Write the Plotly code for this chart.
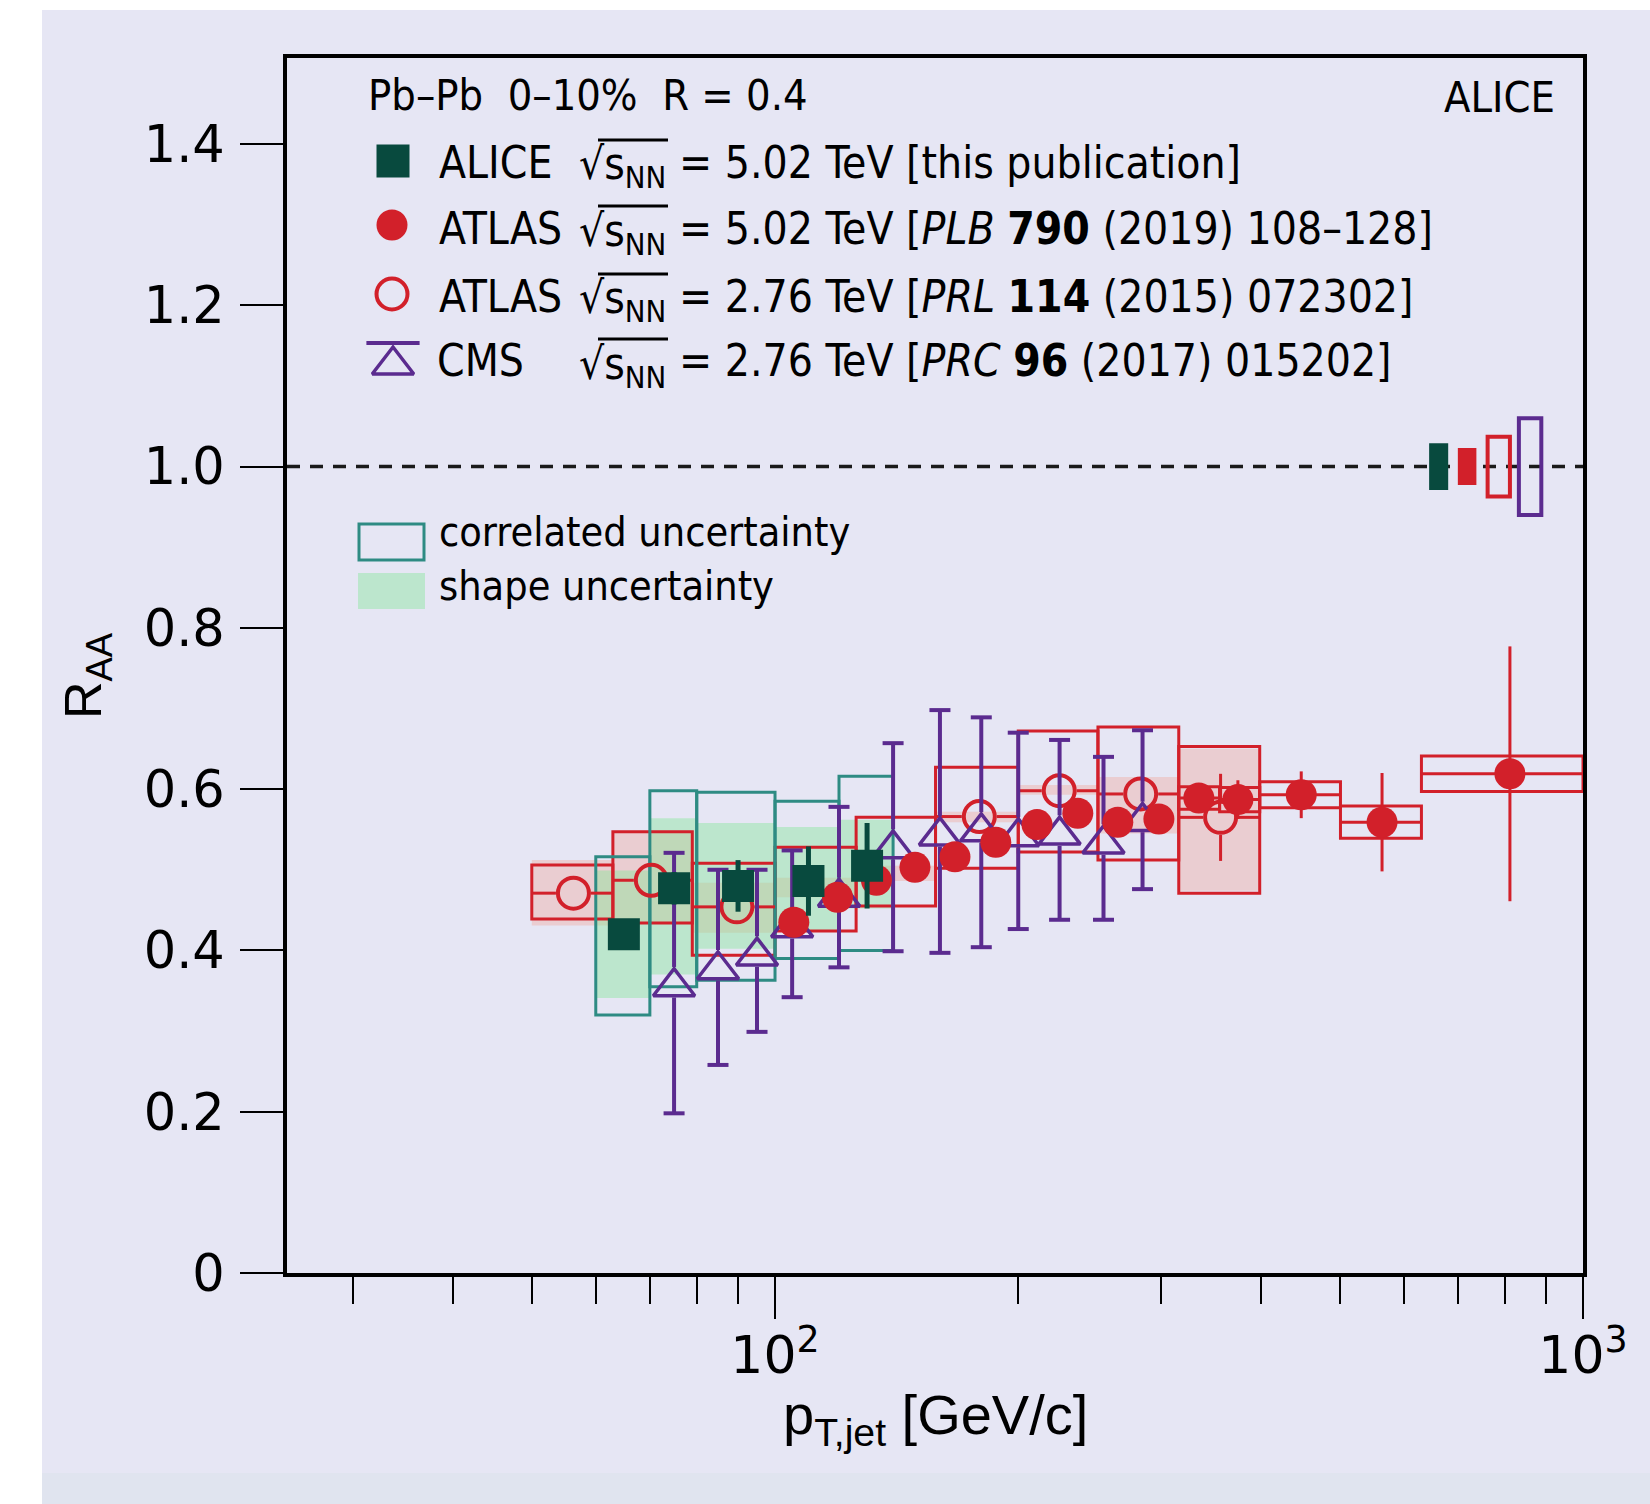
import plotly.graph_objects as go

# ---------------- data ----------------
# ALICE, sqrt(sNN) = 5.02 TeV
alice_lo = [60, 70, 80, 100, 120]
alice_hi = [70, 80, 100, 120, 140]
alice_x = [65, 75, 90, 110, 130]
alice_y = [0.420, 0.477, 0.480, 0.486, 0.505]
alice_stat = [0.015, 0.020, 0.032, 0.043, 0.053]
alice_corr_lo = [0.320, 0.355, 0.363, 0.390, 0.400]
alice_corr_hi = [0.516, 0.598, 0.596, 0.585, 0.616]
alice_shape_lo = [0.341, 0.370, 0.402, 0.425, 0.452]
alice_shape_hi = [0.499, 0.564, 0.558, 0.553, 0.562]

# ATLAS, sqrt(sNN) = 5.02 TeV  (sys 0 -> no box / bin bar visible)
atlas5_lo = [100, 112, 126, 141, 158, 178, 200, 224, 251, 282, 316, 355, 398, 501, 631]
atlas5_hi = [112, 126, 141, 158, 178, 200, 224, 251, 282, 316, 355, 398, 501, 631, 1000]
atlas5_x = [105.5, 119.5, 133.5, 149, 167, 187.6, 211, 237, 265.6, 298.6, 334.6, 374, 448, 564, 812]
atlas5_y = [0.435, 0.466, 0.487, 0.503, 0.516, 0.534, 0.556, 0.570, 0.559, 0.563,
            0.589, 0.587, 0.593, 0.559, 0.619]
atlas5_stat = [0.008, 0.008, 0.008, 0.008, 0.008, 0.008, 0.008, 0.009, 0.010, 0.012,
               0.015, 0.024, 0.029, 0.061, 0.158]
atlas5_sys = [0, 0, 0, 0, 0, 0, 0, 0, 0, 0,
              0.014, 0.015, 0.016, 0.020, 0.022]

# ATLAS, sqrt(sNN) = 2.76 TeV
atlas2_lo = [50, 63, 79, 100, 126, 158, 200, 251, 316]
atlas2_hi = [63, 79, 100, 126, 158, 200, 251, 316, 398]
atlas2_box_lo = [0.439, 0.434, 0.394, 0.424, 0.455, 0.502, 0.522, 0.512, 0.471]
atlas2_box_hi = [0.506, 0.547, 0.508, 0.528, 0.565, 0.627, 0.672, 0.677, 0.653]
atlas2_fill_lo = [0.431, 0.434, 0.422, 0.466, 0.486, 0.559, 0.593, 0.545, 0.474]
atlas2_fill_hi = [0.512, 0.547, 0.484, 0.490, 0.505, 0.572, 0.605, 0.615, 0.650]
atlas2_x = [56.3, 70.3, 89.7, None, None, 179, 224.8, 283.5, 356]
atlas2_y = [0.471, 0.487, 0.454, None, None, 0.566, 0.598, 0.594, 0.565]
atlas2_stat = [0.012, 0.012, 0.012, None, None, 0.012, 0.012, 0.015, 0.054]

# CMS, sqrt(sNN) = 2.76 TeV
cms_x = [75, 85, 95, 105, 120, 140, 160, 180, 200, 225, 255, 285]
cms_y = [0.355, 0.376, 0.393, 0.428, 0.466, 0.526, 0.542, 0.547, 0.541, 0.543, 0.532, 0.560]
cms_top = [0.521, 0.500, 0.500, 0.524, 0.578, 0.657, 0.698, 0.689, 0.670, 0.661, 0.640, 0.673]
cms_bot = [0.198, 0.258, 0.299, 0.342, 0.379, 0.399, 0.397, 0.404, 0.4265, 0.438, 0.438, 0.476]

# normalisation uncertainties drawn at R_AA = 1 (ALICE, ATLAS 5.02, ATLAS 2.76, CMS)
norm_lo = [645, 700, 762, 833]
norm_hi = [681, 738, 812, 888]
norm_unc = [0.029, 0.023, 0.037, 0.060]

x_tickvals = [100, 1000]
x_ticktext = ["10<sup>2</sup>", "10<sup>3</sup>"]
x_minor = [30, 40, 50, 60, 70, 80, 90, 200, 300, 400, 500, 600, 700, 800, 900]
y_tickvals = [0, 0.2, 0.4, 0.6, 0.8, 1.0, 1.2, 1.4]
y_ticktext = ["0", "0.2", "0.4", "0.6", "0.8", "1.0", "1.2", "1.4"]

# ---------------- layout geometry ----------------
W, H = 1650, 1504
L_PX, R_PX, T_PX, B_PX = 287, 1583, 58, 1273
PW, PH = R_PX - L_PX, B_PX - T_PX
XR = [1.396, 3.0]
YR = [0.0, 1.5066]
PX_PER_DEC = PW / (XR[1] - XR[0])
PX_PER_Y = PH / (YR[1] - YR[0])


def px(x):
    return (x - L_PX) / PW


def py(y):
    return (B_PX - y) / PH


BG = "#e6e6f4"
RED = "#d2202a"
GREEN = "#084a3e"
TEAL = "#2e8b83"
PURPLE = "#5b2b8f"
GREEN_FILL = "rgba(130,230,150,0.42)"
PINK_FILL = "rgba(245,140,120,0.28)"
NARROW = "DejaVu Sans Condensed, Liberation Sans, sans-serif"
TICKF = "DejaVu Sans, sans-serif"
TXT = 44

CIRC = 31
CIRC_LW = 4
TRI = 36
TRI_LW = 3.5


def rect_path(x0s, x1s, y0s, y1s, closed_extra=False):
    xs, ys = [], []
    for a, b, c, d in zip(x0s, x1s, y0s, y1s):
        if closed_extra:
            xs += [a, b, b, a, a, b, None]
            ys += [c, c, d, d, c, c, None]
        else:
            xs += [a, b, b, a, a, None]
            ys += [c, c, d, d, c, None]
    return xs, ys


fig = go.Figure()


def add_fill(xs, ys, color):
    fig.add_trace(go.Scatter(x=xs, y=ys, mode="lines", fill="toself", fillcolor=color,
                             line=dict(width=0), hoverinfo="skip", showlegend=False))


def add_outline(xs, ys, color, width=3):
    fig.add_trace(go.Scatter(x=xs, y=ys, mode="lines", line=dict(color=color, width=width),
                             hoverinfo="skip", showlegend=False))


# fills
xs, ys = rect_path(atlas2_lo, atlas2_hi, atlas2_fill_lo, atlas2_fill_hi)
add_fill(xs, ys, PINK_FILL)
xs, ys = rect_path(alice_lo, alice_hi, alice_shape_lo, alice_shape_hi)
add_fill(xs, ys, GREEN_FILL)

# outlines
xs, ys = rect_path(atlas2_lo, atlas2_hi, atlas2_box_lo, atlas2_box_hi, True)
add_outline(xs, ys, RED, 3)
sel = [i for i, s in enumerate(atlas5_sys) if s > 0]
xs, ys = rect_path([atlas5_lo[i] for i in sel], [atlas5_hi[i] for i in sel],
                   [atlas5_y[i] - atlas5_sys[i] for i in sel],
                   [atlas5_y[i] + atlas5_sys[i] for i in sel], True)
add_outline(xs, ys, RED, 3)
xs, ys = rect_path(alice_lo, alice_hi, alice_corr_lo, alice_corr_hi, True)
add_outline(xs, ys, TEAL, 3)

# normalisation boxes at unity
norm_colors = [GREEN, RED, RED, PURPLE]
norm_filled = [True, True, False, False]
for lo, hi, u, c, f in zip(norm_lo, norm_hi, norm_unc, norm_colors, norm_filled):
    xs, ys = rect_path([lo], [hi], [1 - u], [1 + u], True)
    if f:
        add_fill(xs, ys, c)
    else:
        add_outline(xs, ys, c, 4)

# ATLAS 2.76: bars stop at the open marker ring
r_px = (CIRC + CIRC_LW) / 2
fx = 10 ** (r_px / PX_PER_DEC)
ry = r_px / PX_PER_Y
bx, by = [], []
for lo, hi, x, y, s in zip(atlas2_lo, atlas2_hi, atlas2_x, atlas2_y, atlas2_stat):
    if x is None:
        continue
    bx += [lo, x / fx, None, x * fx, hi, None]
    by += [y, y, None, y, y, None]
    if s > ry:
        bx += [x, x, None, x, x, None]
        by += [y + s, y + ry, None, y - ry, y - s, None]
add_outline(bx, by, RED, 3)
fig.add_trace(go.Scatter(x=atlas2_x, y=atlas2_y, mode="markers",
                         marker=dict(symbol="circle-open", size=CIRC, color=RED,
                                     line=dict(width=CIRC_LW, color=RED)),
                         hoverinfo="skip", showlegend=False))

# CMS: bars with caps, interrupted by the open triangle
apex = (TRI / 2 + TRI_LW / 2) / PX_PER_Y
base = (TRI / 4 + TRI_LW / 2) / PX_PER_Y
bx, by = [], []
for x, y, t, b in zip(cms_x, cms_y, cms_top, cms_bot):
    bx += [x, x, None, x, x, None]
    by += [t, y + apex, None, y - base, b, None]
add_outline(bx, by, PURPLE, 4)
fig.add_trace(go.Scatter(x=cms_x + cms_x, y=cms_top + cms_bot, mode="markers",
                         marker=dict(symbol="line-ew-open", size=15, color=PURPLE,
                                     line=dict(width=4, color=PURPLE)),
                         hoverinfo="skip", showlegend=False))
fig.add_trace(go.Scatter(x=cms_x, y=cms_y, mode="markers",
                         marker=dict(symbol="triangle-up-open", size=TRI, color=PURPLE,
                                     line=dict(width=TRI_LW, color=PURPLE)),
                         hoverinfo="skip", showlegend=False))

# ATLAS 5.02
fig.add_trace(go.Scatter(
    x=atlas5_x, y=atlas5_y, mode="markers",
    marker=dict(symbol="circle", size=CIRC, color=RED, line=dict(width=0)),
    error_x=dict(type="data", symmetric=False,
                 array=[(h - x) if s > 0 else 0 for h, x, s in zip(atlas5_hi, atlas5_x, atlas5_sys)],
                 arrayminus=[(x - l) if s > 0 else 0 for l, x, s in zip(atlas5_lo, atlas5_x, atlas5_sys)],
                 width=0, thickness=3, color=RED),
    error_y=dict(type="data", array=atlas5_stat, width=0, thickness=3, color=RED),
    hoverinfo="skip", showlegend=False))

# ALICE
fig.add_trace(go.Scatter(
    x=alice_x, y=alice_y, mode="markers",
    marker=dict(symbol="square", size=32, color=GREEN, line=dict(width=0)),
    error_y=dict(type="data", array=alice_stat, width=0, thickness=5, color=GREEN),
    hoverinfo="skip", showlegend=False))

# ---------------- legend symbols (overlay axes in paper units) ----------------
row_y = [162, 228, 296, 361]
leg_x = 393


def add_leg(x, y, **mk):
    fig.add_trace(go.Scatter(x=[px(x)], y=[py(y)], xaxis="x2", yaxis="y2", mode="markers",
                             marker=mk, hoverinfo="skip", showlegend=False, cliponaxis=False))


add_leg(leg_x, row_y[0] - 1, symbol="square", size=33, color=GREEN)
add_leg(leg_x - 1, row_y[1] - 3, symbol="circle", size=CIRC, color=RED)
add_leg(leg_x - 1, row_y[2] - 2, symbol="circle-open", size=CIRC, color=RED,
        line=dict(width=CIRC_LW, color=RED))
add_leg(leg_x, row_y[3] + 4, symbol="triangle-up-open", size=TRI, color=PURPLE,
        line=dict(width=TRI_LW, color=PURPLE))
add_leg(leg_x, row_y[3] - 18, symbol="line-ew-open", size=38, color=PURPLE,
        line=dict(width=4, color=PURPLE))

# ---------------- texts ----------------
ann = []


def text(x, y, s, size=TXT, anchor="left", family=NARROW, **kw):
    ann.append(dict(x=px(x), y=py(y), xref="paper", yref="paper", text=s, showarrow=False,
                    xanchor=anchor, yanchor="middle",
                    font=dict(family=family, size=size, color="black"), **kw))


text(366, 95, "Pb\u2013Pb\u00a0\u00a00\u201310%\u00a0\u00a0R = 0.4", size=43)
text(1557, 97, "ALICE", size=43, anchor="right")
names = ["ALICE", "ATLAS", "ATLAS", "CMS"]
rest = ["= 5.02 TeV [this publication]",
        "= 5.02 TeV [<i>PLB</i> <b>790</b> (2019) 108\u2013128]",
        "= 2.76 TeV [<i>PRL</i> <b>114</b> (2015) 072302]",
        "= 2.76 TeV [<i>PRC</i> <b>96</b> (2017) 015202]"]
shapes = []
for i, (n, r_) in enumerate(zip(names, rest)):
    y = row_y[i]
    text(437 if n != "CMS" else 435, y, n)
    text(577, y + 5, "\u221as<sub>NN</sub>")
    text(677, y, r_)
    shapes.append(dict(type="line", xref="paper", yref="paper",
                       x0=px(598), x1=px(668), y0=py(y - 22), y1=py(y - 22),
                       line=dict(color="black", width=3)))

text(437, 532, "correlated uncertainty", size=41)
text(437, 586, "shape uncertainty", size=41)
shapes.append(dict(type="rect", xref="paper", yref="paper", x0=px(359), x1=px(424),
                   y0=py(524), y1=py(560), line=dict(color=TEAL, width=3), fillcolor="rgba(0,0,0,0)"))
shapes.append(dict(type="rect", xref="paper", yref="paper", x0=px(358), x1=px(425),
                   y0=py(573), y1=py(609), line=dict(width=0), fillcolor=GREEN_FILL))

# axis titles
text(935, 1418, "p<sub>T,jet</sub> [GeV/c]", size=56, anchor="center",
     family="Liberation Sans, Arial, sans-serif")
ann.append(dict(x=px(87), y=py(676), xref="paper", yref="paper", text="R<sub>AA</sub>",
                showarrow=False, textangle=-90, xanchor="center", yanchor="middle",
                font=dict(family="Liberation Sans, Arial, sans-serif", size=52, color="black")))

# unity reference line
shapes.append(dict(type="line", xref="paper", x0=0, x1=1, yref="y", y0=1, y1=1,
                   line=dict(color="#1a1a1a", width=3.5, dash="13px,10px"), layer="below"))
# page margins of the original picture
shapes.append(dict(type="rect", xref="paper", yref="paper", x0=px(0), x1=px(W), y0=py(0),
                   y1=py(10), line=dict(width=0), fillcolor="white", layer="below"))
shapes.append(dict(type="rect", xref="paper", yref="paper", x0=px(0), x1=px(42), y0=py(0),
                   y1=py(H), line=dict(width=0), fillcolor="white", layer="below"))
shapes.append(dict(type="rect", xref="paper", yref="paper", x0=px(42), x1=px(W), y0=py(1473),
                   y1=py(H), line=dict(width=0), fillcolor="#e0e4ef", layer="below"))

fig.update_layout(
    width=W, height=H, autosize=False,
    margin=dict(l=L_PX, r=W - R_PX, t=T_PX, b=H - B_PX, pad=0),
    paper_bgcolor=BG, plot_bgcolor=BG,
    showlegend=False,
    annotations=ann, shapes=shapes,
    xaxis=dict(type="log", range=XR, showgrid=False, zeroline=False,
               showline=True, linewidth=4, linecolor="black", mirror=True,
               ticks="outside", ticklen=42, tickwidth=2, tickcolor="black",
               tickmode="array", tickvals=x_tickvals, ticktext=x_ticktext,
               tickfont=dict(family=TICKF, size=52, color="black"),
               ticklabelstandoff=-8,
               minor=dict(tickmode="array", tickvals=x_minor, ticks="outside",
                          ticklen=27, tickwidth=2, tickcolor="black", showgrid=False)),
    yaxis=dict(range=YR, showgrid=False, zeroline=False,
               showline=True, linewidth=4, linecolor="black", mirror=True,
               ticks="outside", ticklen=43, tickwidth=2, tickcolor="black",
               tickmode="array", tickvals=y_tickvals, ticktext=y_ticktext,
               tickfont=dict(family=TICKF, size=51, color="black"),
               ticklabelstandoff=5),
    xaxis2=dict(overlaying="x", range=[0, 1], visible=False, fixedrange=True),
    yaxis2=dict(overlaying="y", range=[0, 1], visible=False, fixedrange=True),
)

fig.write_html("out.html", config={"displayModeBar": False},
               post_script="document.body.style.margin='0px';")
